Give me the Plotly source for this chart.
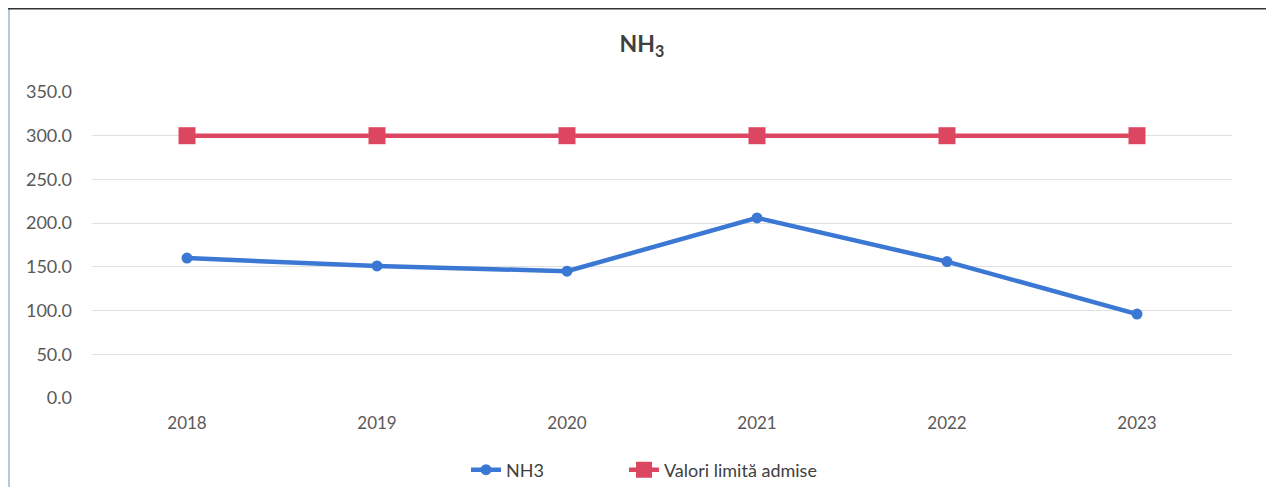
import plotly.graph_objects as go

years = ["2018", "2019", "2020", "2021", "2022", "2023"]
nh3 = [160, 151, 145, 206, 156, 96]
limit = [300, 300, 300, 300, 300, 300]
y_ticks = [0, 50, 100, 150, 200, 250, 300, 350]
y_tick_labels = ["0.0", "50.0", "100.0", "150.0", "200.0", "250.0", "300.0", "350.0"]

# the page body has an 8px margin, so the figure is laid out in (screen - 8) coords
W, H = 1266, 479
L, R, T, B = 84, 42, 84, 89
pw, ph = W - L - R, H - T - B

def px_x(x):
    return (x - L) / pw

def px_y(y):
    return (H - B - y) / ph

fig = go.Figure()
fig.add_trace(go.Scatter(
    x=years, y=nh3, name="NH3", mode="lines+markers", legend="legend",
    line=dict(color="#3b78d4", width=4.5),
    marker=dict(symbol="circle", size=11, color="#3b78d4"),
))
fig.add_trace(go.Scatter(
    x=years, y=limit, name="Valori limită admise", mode="lines+markers", legend="legend2",
    line=dict(color="#dc4660", width=4.5),
    marker=dict(symbol="square", size=17, color="#dc4660"),
))

font_fam = "Lato, 'Open Sans', sans-serif"
leg_common = dict(orientation="h", xanchor="left", y=px_y(462), yanchor="middle",
                  font=dict(size=18, color="#404040"), bgcolor="rgba(0,0,0,0)")
fig.update_layout(
    width=W, height=H,
    margin=dict(l=L, r=R, t=T, b=B, autoexpand=False),
    paper_bgcolor="white", plot_bgcolor="white",
    font=dict(family=font_fam, size=17, color="#595959"),
    title=dict(text="<b>NH<sub>3</sub></b>", xref="container", x=634 / W, xanchor="center",
               y=1 - 36 / H, yanchor="middle",
               font=dict(size=23, color="#404040", family=font_fam)),
    showlegend=True,
    legend=dict(x=px_x(458), **leg_common),
    legend2=dict(x=px_x(616), **leg_common),
    xaxis=dict(type="category", range=[-0.5, 5.5], showgrid=False, showline=False,
               zeroline=False, ticks="", ticklabelstandoff=13,
               tickfont=dict(size=17, color="#595959")),
    yaxis=dict(range=[0, 350], tickvals=y_ticks, ticktext=y_tick_labels,
               showgrid=True, gridcolor="#e0e0e0", gridwidth=1.3,
               zeroline=False, showline=False, ticks="", ticklabelstandoff=19,
               tickfont=dict(size=18, color="#595959")),
    shapes=[
        dict(type="line", xref="paper", yref="paper",
             x0=px_x(1), x1=px_x(1), y0=px_y(H), y1=px_y(0),
             line=dict(color="#9fb6d8", width=1.5), layer="below"),
        dict(type="line", xref="paper", yref="paper",
             x0=px_x(1265), x1=px_x(1265), y0=px_y(H), y1=px_y(0),
             line=dict(color="#d8dee8", width=1.5), layer="below"),
        dict(type="line", xref="paper", yref="paper",
             x0=px_x(0), x1=px_x(W), y0=px_y(0.5), y1=px_y(0.5),
             line=dict(color="#333333", width=2)),
    ],
)

fig.write_html("out.html")
